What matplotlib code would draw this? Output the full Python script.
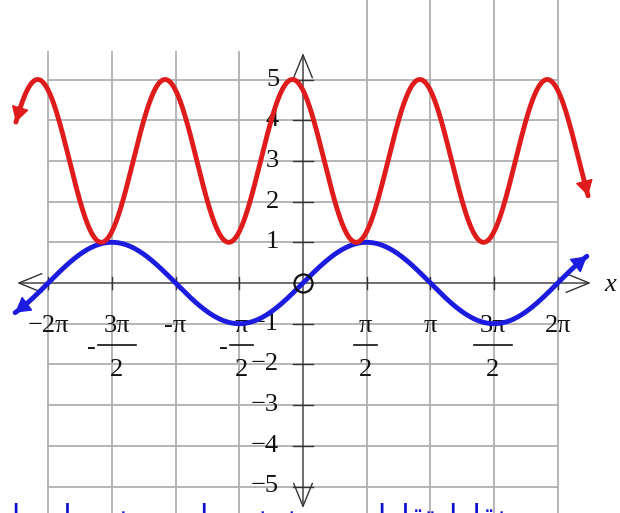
import numpy as np
import matplotlib
matplotlib.use("Agg")
import matplotlib.pyplot as plt

# graph of y = sin x and y = 3 + 2cos(2(x + shift))
PI = np.pi
blue_range = (-7.10, 7.00)
red_range = (-7.08, 7.03)
red_mid = 3
red_amp = 2
red_shift = 0.26

grid_x = [k * PI / 2 for k in range(-4, 5) if k != 0]
grid_y = [-5, -4, -3, -2, -1, 1, 2, 3, 4, 5]

whole_ticks = [-2 * PI, -PI, PI, 2 * PI]
whole_labels = ["\u22122\u03c0", "-\u03c0", "\u03c0", "2\u03c0"]
frac_ticks = [-3 * PI / 2, -PI / 2, PI / 2, 3 * PI / 2]
frac_nums = ["3\u03c0", "\u03c0", "\u03c0", "3\u03c0"]
frac_neg = [True, True, False, False]
y_labels = ["5", "4", "3", "2", "1", "\u22121", "\u22122", "\u22123", "\u22124", "\u22125"]
y_ticks = [5, 4, 3, 2, 1, -1, -2, -3, -4, -5]

note_text = "نقاط تقاطع دو منحنی را روی نمودار بیابید"

# arabic presentation forms: isolated, final, initial, medial
FORMS = {
    'ا': (0xFE8D, 0xFE8E, None, None),
    'ب': (0xFE8F, 0xFE90, 0xFE91, 0xFE92),
    'ت': (0xFE95, 0xFE96, 0xFE97, 0xFE98),
    'ح': (0xFEA1, 0xFEA2, 0xFEA3, 0xFEA4),
    'د': (0xFEA9, 0xFEAA, None, None),
    'ر': (0xFEAD, 0xFEAE, None, None),
    'ط': (0xFEC1, 0xFEC2, 0xFEC3, 0xFEC4),
    'ع': (0xFEC9, 0xFECA, 0xFECB, 0xFECC),
    'ق': (0xFED5, 0xFED6, 0xFED7, 0xFED8),
    'م': (0xFEE1, 0xFEE2, 0xFEE3, 0xFEE4),
    'ن': (0xFEE5, 0xFEE6, 0xFEE7, 0xFEE8),
    'و': (0xFEED, 0xFEEE, None, None),
    'ی': (0xFBFC, 0xFBFD, 0xFBFE, 0xFBFF),
}


def shape(text):
    out = []
    for i, c in enumerate(text):
        if c not in FORMS:
            out.append(c)
            continue
        prev = text[i - 1] if i > 0 else None
        nxt = text[i + 1] if i + 1 < len(text) else None
        iso, fin, ini, med = FORMS[c]
        jp = prev in FORMS and FORMS[prev][2] is not None
        jn = nxt in FORMS and ini is not None
        if jp and jn:
            g = med
        elif jp:
            g = fin
        elif jn:
            g = ini
        else:
            g = iso
        out.append(chr(g))
    return "".join(reversed(out))


fig = plt.figure(figsize=(6.2, 5.13), dpi=100)
ax = fig.add_axes([0, 0, 1, 1])
ax.set_xlim(-303 / 40.55, 317 / 40.55)
ax.set_ylim(-230 / 40.7, 283 / 40.7)
ax.axis("off")

grid_c = "#b0b0b0"
top = 283 / 40.7
bottom = -230 / 40.7
for gx in grid_x:
    ax.plot([gx, gx], [bottom, 5.68 if gx < 0 else top], color=grid_c, lw=1.3, zorder=1)
for gy in grid_y:
    ax.plot([-2 * PI, 2 * PI], [gy, gy], color=grid_c, lw=1.3, zorder=1)

# axes with open arrow heads
axis_c = "#333333"
ax.annotate("", xy=(7.10, 0), xytext=(-7.05, 0),
            arrowprops=dict(arrowstyle="<->,head_length=1.1,head_width=0.45",
                            color=axis_c, lw=1.0, mutation_scale=15, shrinkA=0, shrinkB=0), zorder=2)
ax.annotate("", xy=(0, 5.65), xytext=(0, -5.53),
            arrowprops=dict(arrowstyle="<->,head_length=1.1,head_width=0.45",
                            color=axis_c, lw=1.0, mutation_scale=15, shrinkA=0, shrinkB=0), zorder=2)
for gx in grid_x:
    ax.plot([gx, gx], [-0.15, 0.15], color=axis_c, lw=1.0, zorder=2)
for gy in y_ticks:
    ax.plot([-0.25, 0.25], [gy, gy], color=axis_c, lw=1.0, zorder=2)

serif = "Liberation Serif"
fs = 19
ink = "#111111"
for t, lab in zip(whole_ticks, whole_labels):
    ax.text(t, -1.06, lab, ha="center", va="center", fontsize=fs, family=serif, color=ink, zorder=3)
for t, num, neg in zip(frac_ticks, frac_nums, frac_neg):
    hw = 0.47 if len(num) > 1 else 0.28
    cx = t + (0.12 if len(num) > 1 and neg else 0.05 if neg else -0.03)
    ax.text(cx, -1.06, num, ha="center", va="center", fontsize=fs, family=serif, color=ink, zorder=3)
    ax.plot([cx - hw, cx + hw], [-1.52, -1.52], color=ink, lw=1.2, zorder=3)
    ax.text(cx, -2.14, "2", ha="center", va="center", fontsize=fs, family=serif, color=ink, zorder=3)
    if neg:
        ax.text(cx - hw - 0.04, -1.6, "-", ha="right", va="center", fontsize=fs, family=serif,
                color=ink, zorder=3)
for gy, lab in zip(y_ticks, y_labels):
    ax.text(-0.59, gy, lab, ha="right", va="center", fontsize=fs, family=serif, color=ink, zorder=3)
ax.text(7.57, -0.05, "x", ha="center", va="center", fontsize=19, family=serif, style="italic",
        color=ink, zorder=3)

# curves
red_c = "#e01b1b"
blue_c = "#1c1ce0"
xb = np.linspace(blue_range[0], blue_range[1], 600)
yb = np.sin(xb)
xr = np.linspace(red_range[0], red_range[1], 1200)
yr = red_mid + red_amp * np.cos(2 * (xr + red_shift))

ax.plot(xb, yb, color=blue_c, lw=3.5, solid_capstyle="round", zorder=4)
ax.plot(xr, yr, color=red_c, lw=3.5, solid_capstyle="round", zorder=5)
for xs, ys, c in [(xb, yb, blue_c), (xr, yr, red_c)]:
    for i0, i1 in [(8, 0), (-9, -1)]:
        ax.annotate("", xy=(xs[i1], ys[i1]), xytext=(xs[i0], ys[i0]),
                    arrowprops=dict(arrowstyle="-|>,head_length=0.6,head_width=0.35",
                                    color=c, lw=1, mutation_scale=16, shrinkA=0, shrinkB=0), zorder=6)

# origin marker
ax.plot([0], [0], marker="o", ms=13, mfc="none", mec="#111111", mew=1.6, zorder=7)

ax.text((506 - 303) / 40.55, (283 - 527) / 40.7, shape(note_text), ha="right", va="baseline",
        fontsize=22, family="DejaVu Sans", color="#1010d0", zorder=3)

fig.savefig("out.png", dpi=100)
